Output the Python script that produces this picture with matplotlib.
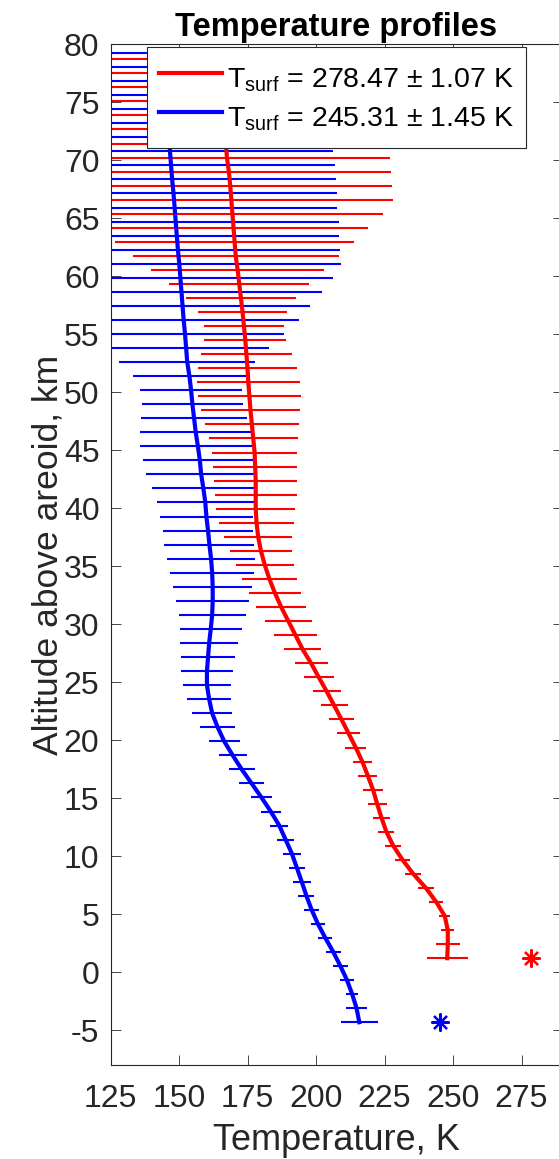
import numpy as np
import matplotlib
matplotlib.use('Agg')
import matplotlib.pyplot as plt

plt.rcParams['font.family'] = ['Liberation Sans', 'DejaVu Sans']
plt.rcParams['mathtext.fontset'] = 'custom'
plt.rcParams['mathtext.rm'] = 'Liberation Sans'
plt.rcParams['axes.unicode_minus'] = False

# retrieved profile 1 (red): altitude grid, temperature and 1-sigma error
red_alt0, red_dz = 1.207, 1.211
red_T = [247.9, 248.1, 248.1, 247.0, 243.9, 240.1, 235.5, 231.6, 228.2, 225.7,
         223.9, 222.3, 220.8, 218.9, 216.9, 214.5, 211.9, 209.3, 206.6, 203.9,
         201.0, 198.2, 195.1, 192.5, 189.9, 187.3, 185.0, 183.0, 181.3, 179.9,
         178.9, 178.3, 178.0, 178.0, 178.0, 177.8, 177.6, 177.1, 176.6, 176.1,
         175.7, 175.3, 175.0, 174.6, 174.2, 173.7, 173.2, 172.6, 172.0, 171.4,
         170.7, 170.3, 169.9, 169.5, 169.1, 168.7, 168.2, 167.5, 167.1, 166.7,
         166.3, 165.9, 165.5, 165.1, 164.7]
red_err = [7.5, 4.45, 2.3, 1.95, 2.6, 3.0, 3.0, 2.7, 2.85, 2.9,
           3.2, 3.5, 3.5, 3.5, 3.5, 3.8, 4.2, 4.7, 4.9, 5.1,
           5.5, 6.0, 6.7, 7.8, 8.6, 9.2, 9.6, 9.9, 10.5, 11.3,
           12.3, 13.6, 14.5, 15.0, 15.2, 15.3, 15.6, 16.2, 17.2, 18.1,
           18.7, 18.7, 18.0, 16.5, 14.9, 14.6, 16.2, 20.2, 25.5, 31.6,
           37.6, 43.6, 49.2, 55.0, 59.1, 59.2, 59.2, 59.5, 59.5, 59.6,
           59.6, 59.7, 59.8, 59.8, 59.9]

# retrieved profile 2 (blue)
blue_alt0, blue_dz = -4.31, 1.211
blue_T = [215.8, 214.8, 213.2, 211.3, 208.9, 206.3, 203.4, 200.7, 198.4, 196.5,
          194.8, 193.0, 191.2, 188.9, 186.6, 183.5, 180.1, 176.5, 172.9, 169.6,
          166.5, 164.1, 162.1, 161.0, 160.2, 160.2, 160.6, 161.0, 161.6, 162.1,
          162.3, 162.3, 162.1, 161.7, 161.1, 160.6, 160.0, 159.6, 158.9, 158.1,
          157.6, 156.9, 156.1, 155.5, 154.9, 154.4, 153.8, 153.0, 152.6, 152.2,
          151.7, 151.3, 150.9, 150.5, 150.1, 149.6, 149.2, 148.8, 148.4, 148.0,
          147.5, 147.1, 146.7, 146.3, 145.9, 145.5, 145.1, 144.7, 144.3, 143.9]
blue_err = [6.7, 3.9, 2.25, 2.55, 2.85, 2.7, 2.55, 2.6, 2.8, 2.9,
            3.3, 3.0, 3.2, 3.0, 3.3, 3.7, 4.0, 4.45, 4.7, 5.1,
            5.6, 6.4, 7.2, 8.0, 8.9, 9.5, 10.0, 10.5, 11.3, 12.2,
            13.3, 14.4, 15.4, 16.0, 16.4, 16.5, 16.9, 17.7, 18.9, 20.0,
            20.8, 21.0, 20.5, 19.3, 18.3, 18.5, 20.7, 24.8, 30.3, 36.0,
            42.0, 46.6, 51.2, 55.8, 59.1, 59.3, 59.3, 59.5, 59.4, 59.5,
            59.7, 59.8, 59.6, 59.8, 60.0, 60.0, 60.2, 60.3, 60.5, 60.5]

# surface temperatures (marker + legend text)
tsurf_red, tsurf_red_err = 278.47, 1.07
tsurf_blue, tsurf_blue_err = 245.31, 1.45

red_alt = red_alt0 + red_dz * np.arange(len(red_T))
blue_alt = blue_alt0 + blue_dz * np.arange(len(blue_T))

W, H, dpi = 559, 1159, 100
fig = plt.figure(figsize=(W / dpi, H / dpi), dpi=dpi)
x0, x1, y0, y1 = 110.5, 562.6, 44.3, 1065.0
ax = fig.add_axes([x0 / W, 1 - y1 / H, (x1 - x0) / W, (y1 - y0) / H])

ax.errorbar(red_T, red_alt, xerr=red_err, fmt='none', ecolor='red',
            elinewidth=1.5, capsize=0)
ax.errorbar(blue_T, blue_alt, xerr=blue_err, fmt='none', ecolor='blue',
            elinewidth=1.5, capsize=0)
lr, = ax.plot(red_T, red_alt, color='red', lw=3,
              label=f'T$_{{\\mathregular{{surf}}}}$ = {tsurf_red:.2f} ± {tsurf_red_err:.2f} K')
lb, = ax.plot(blue_T, blue_alt, color='blue', lw=3,
              label=f'T$_{{\\mathregular{{surf}}}}$ = {tsurf_blue:.2f} ± {tsurf_blue_err:.2f} K')
ax.plot([tsurf_red], [red_alt[0]], ls='none', marker=(8, 2, 0), ms=13,
        mew=1.6, color='red')
ax.plot([tsurf_blue], [blue_alt[0]], ls='none', marker=(8, 2, 0), ms=13,
        mew=1.6, color='blue')

ax.set_xlim(125, 290)
ax.set_ylim(-8, 80)
ax.set_xticks(np.arange(125, 276, 25))
ax.set_yticks(np.arange(-5, 81, 5))

grey = '0.15'
for s in ax.spines.values():
    s.set_color(grey)
    s.set_linewidth(0.8)
ax.tick_params(axis='both', which='both', direction='in', length=7, width=0.6,
               color=grey, labelcolor=grey, labelsize=23,
               top=True, right=True)
ax.tick_params(axis='x', pad=14)
ax.tick_params(axis='y', pad=8)

ax.set_title('Temperature profiles', fontsize=23.5, fontweight='bold', pad=6)
ax.set_xlabel('Temperature, K', fontsize=26, color=grey)
ax.set_ylabel('Altitude above areoid, km', fontsize=25.5, color=grey)
ax.xaxis.set_label_coords(0.5, -0.057)
ax.yaxis.set_label_coords(-0.101, 0.5)

leg = ax.legend(handles=[lr, lb], loc='upper center', bbox_to_anchor=(0.5, 1.0),
                fontsize=20.5, handlelength=2.2, handleheight=1.65,
                handletextpad=0.2, borderpad=0.42, labelspacing=0.05,
                borderaxespad=0.1, fancybox=False, framealpha=1, edgecolor=grey)
leg.get_frame().set_linewidth(0.8)

fig.savefig('out.png', dpi=dpi)
